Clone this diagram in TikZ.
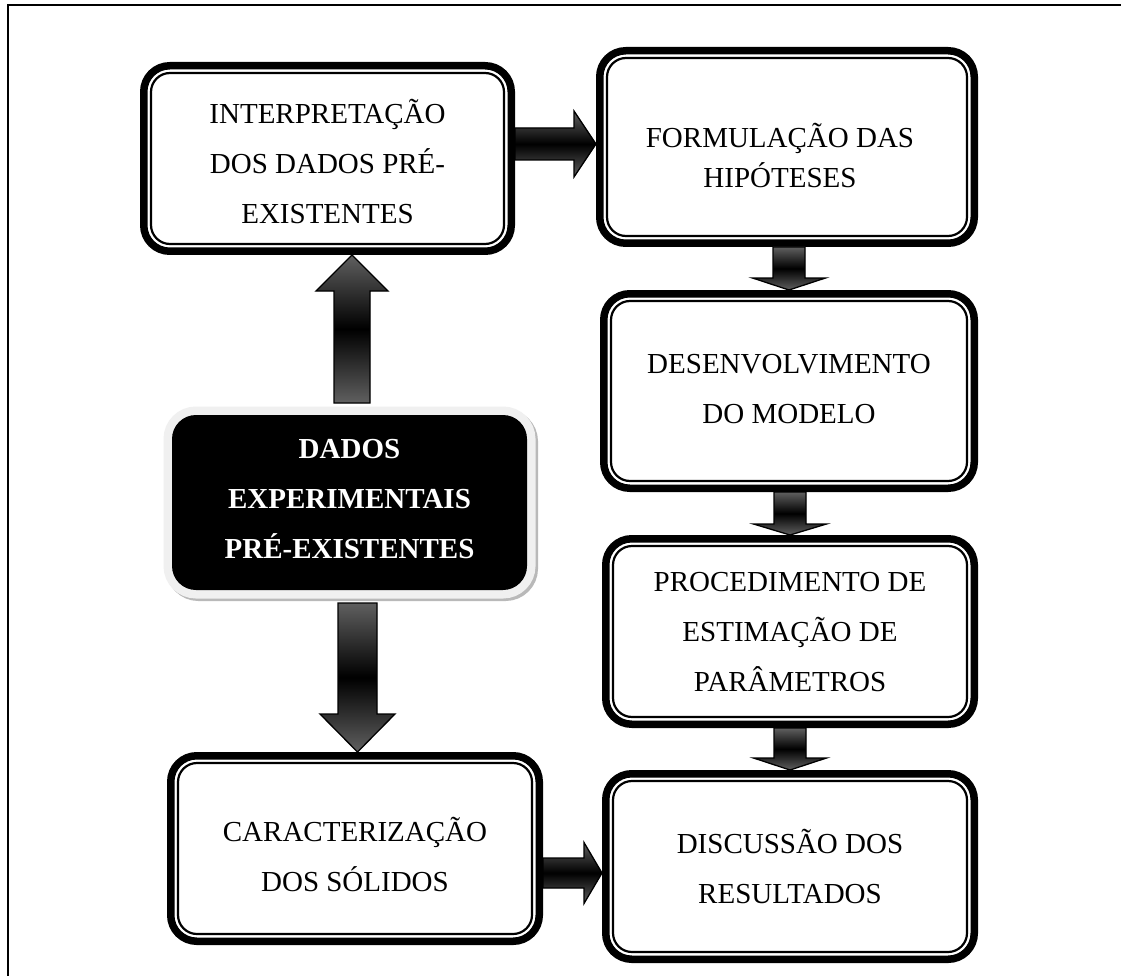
\documentclass[tikz,border=0pt]{standalone}
\usepackage{fontspec}
\setmainfont{Liberation Serif}
\usetikzlibrary{calc}
\tikzset{
  boxnode/.style={draw=none, outer sep=0pt, inner sep=0pt},
  txt/.style={align=center, inner sep=0pt, font=\fontsize{29}{50}\selectfont},
  arrshadow/.style={fill=gray!50},
  arrbody/.style={draw=black, line width=1.3pt, top color=gray!75!black, bottom color=gray!75!black, middle color=black},
  dadosbox/.style={fill=black, draw=none, rounded corners=24pt, outer sep=0pt, inner sep=0pt,
    preaction={draw=gray!55, line width=17pt, transform canvas={shift={(2.5pt,-2.5pt)}}},
    preaction={draw=gray!12, line width=17pt}},
}
% double border: thick outer, thin inner
\newcommand\dblborder[1]{%
  \draw[line width=7.5pt, rounded corners=26pt] ([shift={(3.75pt,3.75pt)}]#1.south west) rectangle ([shift={(-3.75pt,-3.75pt)}]#1.north east);
  \draw[line width=2.2pt, rounded corners=19pt] ([shift={(11pt,11pt)}]#1.south west) rectangle ([shift={(-11pt,-11pt)}]#1.north east);}
% vertical block arrow: #1 start, #2 tip, #3 body half width, #4 head half width, #5 head length, #6 style
\newcommand\vpoly[6]{%
  \path[#6] let \p1=(#1), \p2=(#2), \n1={sign(\y2-\y1)} in
    (\x2-#3,\y1) -- (\x2-#3,\y2-\n1*#5) -- (\x2-#4,\y2-\n1*#5) -- (\x2,\y2) --
    (\x2+#4,\y2-\n1*#5) -- (\x2+#3,\y2-\n1*#5) -- (\x2+#3,\y1) -- cycle;}
% horizontal block arrow
\newcommand\hpoly[6]{%
  \path[#6] let \p1=(#1), \p2=(#2), \n1={sign(\x2-\x1)} in
    (\x1,\y2+#3) -- (\x2-\n1*#5,\y2+#3) -- (\x2-\n1*#5,\y2+#4) -- (\x2,\y2) --
    (\x2-\n1*#5,\y2-#4) -- (\x2-\n1*#5,\y2-#3) -- (\x1,\y2-#3) -- cycle;}
\newcommand\varrow[5]{\vpoly{#1}{#2}{#3}{#4}{#5}{arrshadow, xshift=3pt, yshift=-3pt}\vpoly{#1}{#2}{#3}{#4}{#5}{arrbody}}
\newcommand\harrow[5]{\hpoly{#1}{#2}{#3}{#4}{#5}{arrshadow, xshift=3pt, yshift=-3pt}\hpoly{#1}{#2}{#3}{#4}{#5}{arrbody}}

\begin{document}
\begin{tikzpicture}[x=1pt, y=1pt]
\useasboundingbox (0,0) rectangle (1121,-976);
\fill[white] (0,0) rectangle (1121,-976);
% page frame (only left and top edges fall inside the picture)
\draw[line width=1.4pt] (8,-976) -- (8,-5) -- (1121,-5);

% boxes (outer extents)
\node[boxnode, minimum width=375pt, minimum height=193pt] (b1) at (327.5,-158.5) {};
\node[boxnode, minimum width=382pt, minimum height=200pt] (b2) at (787,-147) {};
\node[boxnode, minimum width=378pt, minimum height=202pt] (b3) at (789,-391) {};
\node[boxnode, minimum width=376pt, minimum height=193pt] (b4) at (790,-631.5) {};
\node[boxnode, minimum width=376pt, minimum height=193pt] (b5) at (790,-866.5) {};
\node[boxnode, minimum width=376pt, minimum height=193pt] (b6) at (355,-848.5) {};
\node[dadosbox, minimum width=355pt, minimum height=175pt] (dados) at (349.5,-502.5) {};

\foreach \b in {b1,b2,b3,b4,b5,b6} {\dblborder{\b}}

% texts
\node[txt] (t1) at ($(b1.center)+(0,-3pt)$) {INTERPRETAÇÃO\\DOS DADOS PRÉ-\\EXISTENTES};
\node[txt, font=\fontsize{29}{40}\selectfont] (t2) at ($(b2.center)+(-7pt,-9pt)$) {FORMULAÇÃO DAS\\HIPÓTESES};
\node[txt] (t3) at ($(b3.center)+(0,2pt)$) {DESENVOLVIMENTO\\DO MODELO};
\node[txt] (t4) at ($(b4.center)+(0,-1pt)$) {PROCEDIMENTO DE\\ESTIMAÇÃO DE\\PARÂMETROS};
\node[txt] (t5) at ($(b5.center)+(0,0pt)$) {DISCUSSÃO DOS\\RESULTADOS};
\node[txt] (t6) at ($(b6.center)+(0,-6pt)$) {CARACTERIZAÇÃO\\DOS SÓLIDOS};
\node[txt, text=white, font=\fontsize{29}{50}\selectfont\bfseries] (t7) at ($(dados.center)+(0,3pt)$) {DADOS\\EXPERIMENTAIS\\PRÉ-EXISTENTES};

% connector end points
\coordinate (u0) at ($(dados.north)+(2.5pt,12pt)$);
\coordinate (u1) at (b1.south -| u0);
\coordinate (d0) at ($(dados.south)+(8pt,-13pt)$);
\coordinate (d1) at (b6.north -| d0);
\coordinate (r0) at ($(b1.east)+(0,14.5pt)$);
\coordinate (r1) at (b2.west |- r0);
\coordinate (s0) at ($(b6.east)+(0,-24.5pt)$);
\coordinate (s1) at (b5.west |- s0);

% arrows
\varrow{u0}{u1}{18}{36}{36}
\varrow{d0}{d1}{19.5}{37.5}{38}
\harrow{r0}{r1}{16}{33}{22}
\harrow{s0}{s1}{15}{30.5}{18}
\varrow{b2.south}{b3.north}{16}{36.5}{12}
\varrow{b3.south}{b4.north}{16}{36.5}{11}
\varrow{b4.south}{b5.north}{16}{36.5}{12}
\end{tikzpicture}
\end{document}
